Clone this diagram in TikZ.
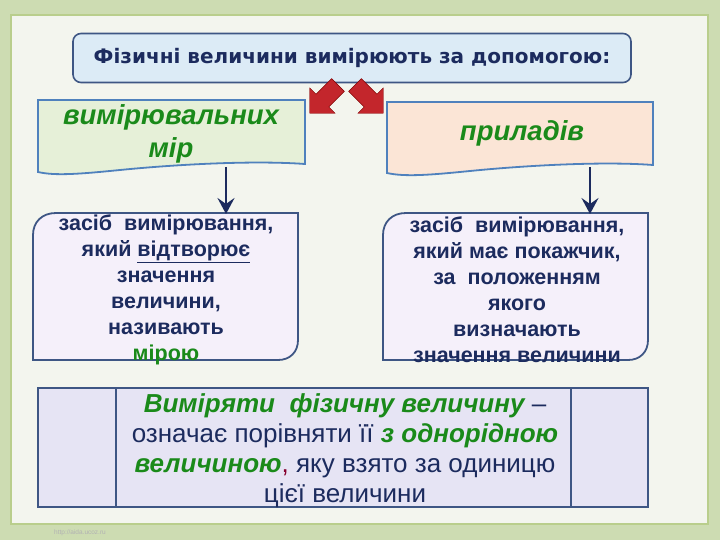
\documentclass[tikz,border=0pt]{standalone}
\usepackage{fontspec}
\setmainfont{Liberation Sans}
\newfontfamily\titlefont{DejaVu Sans}
\usetikzlibrary{arrows.meta}
\definecolor{navy}{HTML}{1C2B5E}
\definecolor{grn}{HTML}{1A8A1A}
\definecolor{edgeblue}{HTML}{4F81BD}
\definecolor{slate}{HTML}{3E5684}
\definecolor{redarr}{HTML}{C3262C}
\definecolor{lav}{HTML}{F5F0FA}
\tikzset{
  docbox/.style={draw=edgeblue, line width=1.8pt},
  lowbox/.style={draw=slate, line width=1.8pt, fill=lav},
  downarrow/.style={draw=navy, line width=2.6pt, -{Stealth[length=16pt,width=17pt,inset=6pt]}},
  redblock/.style={fill=redarr, draw=red!50!black, line width=0.4pt},
  midtxt/.style={font=\bfseries\fontsize{21.5}{26}\selectfont, text=navy, align=center},
  greentitle/.style={font=\bfseries\itshape\fontsize{27.5}{33}\selectfont, text=grn, align=center},
}
\begin{document}
\begin{tikzpicture}[x=1pt,y=-1pt]
\useasboundingbox (0,0) rectangle (720,540);
% background
\fill[fill={rgb,255:red,205;green,220;blue,178}] (0,0) rectangle (720,540);
\fill[fill={rgb,255:red,243;green,245;blue,238}, draw={rgb,255:red,185;green,206;blue,140}, line width=2pt] (11,15) rectangle (708,524);
\node[font=\fontsize{6.5}{8}\selectfont, text=black!30] (wm) at (80,533) {http://aida.ucoz.ru};
% title
\node[draw=slate, line width=1.6pt, rounded corners=8pt, fill={rgb,255:red,220;green,235;blue,246},
      minimum width=558pt, minimum height=49pt, font=\titlefont\bfseries\fontsize{20}{24}\selectfont, text=navy]
      (title) at (352,58) {Фізичні величини вимірюють за допомогою:};
% red arrows
\begin{scope}[shift={(338,85)}, rotate=225]
  \path[redblock] (0,-9) -- (22,-9) -- (22,-18) -- (40,0) -- (22,18) -- (22,9) -- (0,9) -- cycle;
\end{scope}
\begin{scope}[shift={(355,85)}, rotate=-45]
  \path[redblock] (0,-9) -- (22,-9) -- (22,-18) -- (40,0) -- (22,18) -- (22,9) -- (0,9) -- cycle;
\end{scope}
% document boxes
\path[docbox, fill={rgb,255:red,230;green,240;blue,216}]
  (38,100) -- (305,100) -- (305,164) .. controls (250,160) and (170,165) .. (120,170) .. controls (80,174) and (55,176) .. (38,172) -- cycle;
\node[greentitle] (lt) at (171,134) {вимірювальних\\мір};
\coordinate (lb) at (226,167);
\path[docbox, fill={rgb,255:red,251;green,229;blue,214}]
  (387,102) -- (653,102) -- (653,165) .. controls (600,161) and (520,166) .. (470,171) .. controls (430,175) and (405,177) .. (387,173) -- cycle;
\node[greentitle] (rt) at (522,133) {приладів};
\coordinate (rb) at (590,167);
% lower boxes
\path[lowbox] (33,360) -- (33,235) .. controls (33,222) and (42,213) .. (56,213) -- (298,213) -- (298,340) .. controls (298,352) and (290,360) .. (278,360) -- cycle;
\path[lowbox] (383,360) -- (383,235) .. controls (383,222) and (392,213) .. (406,213) -- (648,213) -- (648,340) .. controls (648,352) and (640,360) .. (628,360) -- cycle;
\node[midtxt] (lm) at (166,290) {засіб\ \ вимірювання,\\який \underline{відтворює}\\значення\\величини,\\називають\\\textcolor{grn}{мірою}};
\node[midtxt] (rm) at (517,290) {засіб\ \ вимірювання,\\який має покажчик,\\за\ \ положенням\\якого\\визначають\\значення величини};
\coordinate (lmt) at (226,214);
\coordinate (rmt) at (590,214);
\draw[downarrow] (lb) -- (lmt);
\draw[downarrow] (rb) -- (rmt);
% bottom box
\fill[fill={rgb,255:red,230;green,228;blue,244}] (38,388) rectangle (648,507);
\draw[draw=slate, line width=2pt] (38,388) rectangle (648,507);
\draw[draw=slate, line width=2pt] (116,388) -- (116,507);
\draw[draw=slate, line width=2pt] (571,388) -- (571,507);
\node[font=\fontsize{26}{30}\selectfont, text=navy, align=center] (bt) at (345,451)
  {\textcolor{grn}{\bfseries\itshape Виміряти\ \ фізичну величину} –\\
   означає порівняти її \textcolor{grn}{\bfseries\itshape з однорідною}\\
   \textcolor{grn}{\bfseries\itshape величиною}\textcolor{purple!70!black}{,} яку взято за одиницю\\
   цієї величини};
\end{tikzpicture}
\end{document}
